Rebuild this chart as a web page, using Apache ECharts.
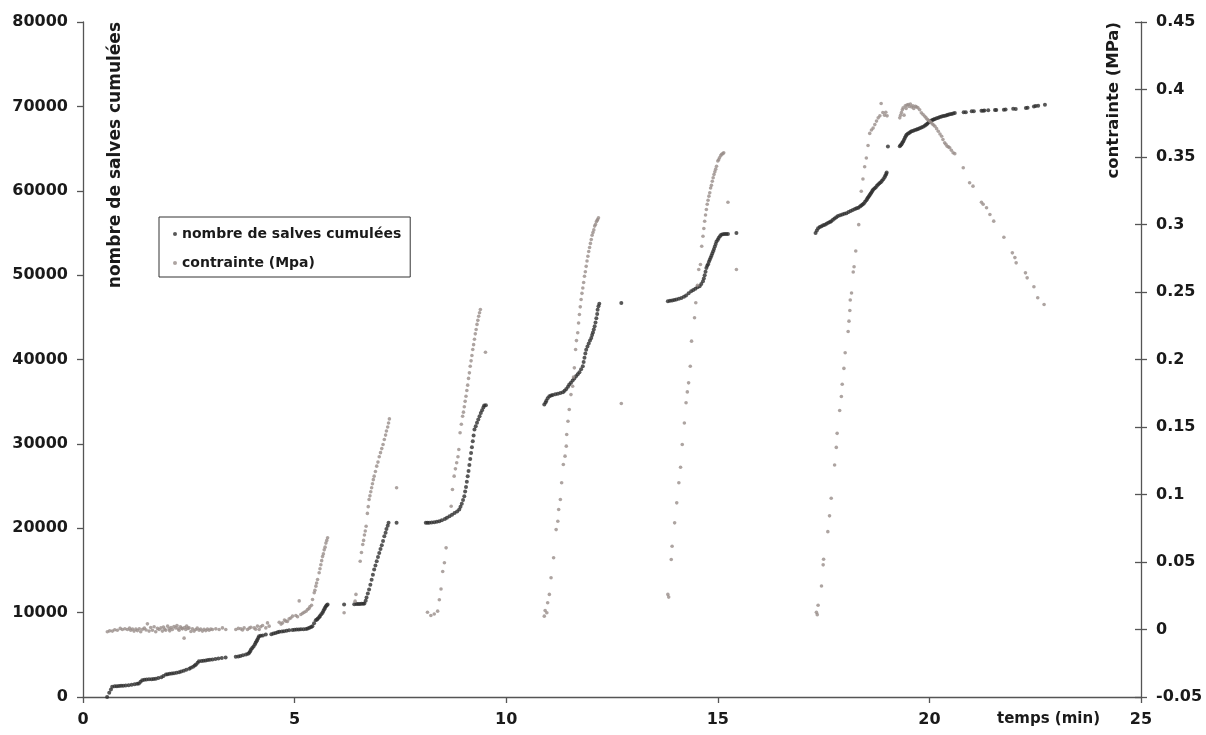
<!DOCTYPE html>
<html>
<head>
<meta charset="utf-8">
<script src="https://cdn.jsdelivr.net/npm/echarts@6/dist/echarts.min.js"></script>
<style>
html,body{margin:0;padding:0;background:#fff;}
#chart{width:1206px;height:735px;}
</style>
</head>
<body>
<div id="chart"></div>
<script>
// ---- data ----
const seriesNames = ['nombre de salves cumulées', 'contrainte (Mpa)'];
const axisNames = ['nombre de salves cumulées', 'contrainte (MPa)', 'temps (min)'];

// cumulated number of bursts (left axis)
const countTime = [
0.57,0.62,0.66,0.69,0.75,0.80,0.85,0.90,0.95,1.01,1.08,1.15,1.22,1.28,1.32,1.36,1.40,1.45,1.50,1.56,1.62,1.67,1.72,1.78,1.85,1.90,1.96,2.00,2.05,2.10,2.15,2.21,2.27,2.32,2.38,2.44,2.51,2.55,2.60,2.64,2.67,2.71,2.74,2.80,2.85,2.90,2.95,3.00,3.06,3.13,3.20,3.28,3.37,
3.61,3.67,3.72,3.78,3.85,3.90,3.93,3.95,3.97,4.00,4.03,4.06,4.08,4.10,4.12,4.14,4.16,4.20,4.25,4.32,4.45,4.50,4.55,4.60,4.64,4.70,4.75,4.81,4.87,4.95,5.00,5.05,5.10,5.15,5.21,5.27,5.31,5.35,5.39,5.42,5.46,5.50,5.53,5.55,5.58,5.60,5.63,5.66,5.68,5.70,5.72,5.74,5.76,5.78,
6.17,6.41,6.46,6.50,6.54,6.58,6.62,6.65,6.68,6.70,6.73,6.76,6.79,6.82,6.85,6.88,6.91,6.94,6.97,7.00,7.03,7.06,7.09,7.12,7.15,7.17,7.20,7.22,7.41,
8.10,8.14,8.18,8.24,8.30,8.36,8.42,8.48,8.55,8.60,8.66,8.72,8.78,8.84,8.89,8.92,8.95,8.98,9.01,9.03,9.05,9.07,9.09,9.11,9.13,9.15,9.17,9.19,9.21,9.23,9.25,9.28,9.31,9.34,9.37,9.40,9.43,9.46,9.48,9.52,
10.90,10.93,10.95,10.98,11.02,11.06,11.10,11.16,11.22,11.28,11.34,11.38,11.42,11.46,11.49,11.53,11.57,11.61,11.65,11.69,11.73,11.77,11.81,11.83,11.85,11.87,11.89,11.92,11.95,11.98,12.01,12.03,12.05,12.07,12.09,12.11,12.13,12.15,12.16,12.18,12.20,12.72,
13.82,13.87,13.92,13.97,14.02,14.08,14.14,14.20,14.25,14.31,14.37,14.42,14.47,14.52,14.57,14.61,14.65,14.67,14.69,14.71,14.73,14.75,14.77,14.79,14.81,14.83,14.85,14.87,14.89,14.91,14.93,14.95,14.97,15.00,15.02,15.05,15.08,15.12,15.16,15.20,15.24,15.44,
17.31,17.34,17.37,17.41,17.45,17.49,17.53,17.57,17.61,17.65,17.68,17.72,17.76,17.80,17.84,17.89,17.94,17.99,18.04,18.09,18.14,18.19,18.24,18.28,18.32,18.36,18.39,18.42,18.45,18.48,18.51,18.53,18.55,18.57,18.59,18.61,18.63,18.65,18.67,18.70,18.73,18.76,18.79,18.82,18.85,18.88,18.91,18.94,18.96,18.98,18.99,19.02,
19.30,19.32,19.34,19.36,19.38,19.40,19.42,19.44,19.46,19.49,19.52,19.55,19.58,19.62,19.66,19.70,19.73,19.77,19.81,19.85,19.89,19.92,19.95,19.98,20.01,20.04,20.07,20.10,20.13,20.17,20.21,20.25,20.29,20.33,20.37,20.41,20.44,20.48,20.52,20.56,20.60,20.81,20.86,
21.00,21.05,21.23,21.27,21.30,21.39,21.55,21.58,21.76,21.80,21.98,22.04,22.28,22.32,22.47,22.51,22.57,22.73
];
const countValue = [
0,500,900,1210,1270,1280,1300,1320,1340,1360,1400,1450,1500,1560,1600,1800,2000,2040,2070,2090,2110,2130,2150,2250,2350,2500,2670,2710,2750,2790,2820,2880,2940,3020,3100,3220,3340,3470,3600,3730,3850,4050,4240,4270,4300,4340,4380,4410,4440,4500,4560,4620,4680,
4760,4800,4850,4940,5030,5130,5240,5430,5630,5820,6000,6210,6420,6610,6800,7000,7200,7250,7300,7400,7450,7520,7600,7660,7720,7760,7800,7860,7920,7950,7980,8000,8010,8020,8040,8050,8120,8200,8300,8390,8750,9100,9200,9300,9450,9600,9800,10000,10200,10400,10580,10760,10860,10960,
10960,11000,11010,11020,11035,11050,11065,11080,11400,11800,12270,12740,13300,13900,14500,15100,15600,16100,16600,17080,17550,18000,18500,19050,19480,19900,20300,20640,20640,
20640,20645,20650,20680,20700,20760,20830,20950,21100,21250,21420,21600,21800,22000,22220,22550,22900,23350,23790,24350,24900,25500,26160,26800,27500,28200,28930,29600,30300,31000,31690,32100,32500,32900,33270,33650,34000,34300,34540,34570,
34660,34900,35100,35400,35640,35720,35800,35880,35950,36030,36110,36300,36500,36780,37030,37250,37500,37750,38010,38250,38500,38850,39190,39700,40200,40700,41170,41550,41900,42250,42560,42900,43200,43550,43930,44400,44900,45400,45910,46300,46620,46700,
46900,46950,47000,47050,47100,47200,47290,47450,47600,47850,48080,48250,48400,48550,48670,48950,49260,49600,50000,50400,50850,51100,51300,51600,51830,52050,52300,52550,52820,53100,53400,53700,54000,54200,54400,54600,54800,54830,54860,54870,54880,55000,
55000,55300,55560,55700,55800,55900,55970,56100,56200,56300,56380,56550,56700,56850,57010,57100,57200,57270,57340,57470,57600,57720,57840,57920,58000,58120,58250,58380,58500,58700,58880,59040,59200,59350,59500,59650,59800,59960,60130,60260,60400,60580,60750,60880,61000,61180,61370,61600,61800,62000,62150,65250,
65260,65380,65500,65680,65850,66050,66250,66450,66650,66750,66850,66950,67040,67120,67200,67260,67320,67410,67500,67600,67710,67830,67950,68080,68220,68300,68380,68440,68500,68580,68650,68730,68810,68850,68900,68960,69010,69060,69100,69160,69210,69290,69310,
69410,69420,69490,69495,69500,69530,69570,69575,69610,69620,69720,69690,69810,69830,70000,70030,70080,70200
];

// stress (right axis)
const stressTime = [
0.575,0.63,0.694,0.75,0.812,0.88,0.930,0.99,1.049,1.10,1.127,1.17,1.206,1.25,1.285,1.33,1.364,1.41,1.45,1.49,1.522,1.561,1.60,1.640,1.68,1.719,1.76,1.798,1.84,1.876,1.90,1.93,1.955,2.00,2.034,2.05,2.08,2.113,2.15,2.192,2.22,2.25,2.271,2.30,2.33,2.349,2.389,2.40,2.428,2.45,2.48,2.507,2.55,2.586,2.625,2.665,2.70,2.744,2.78,2.822,2.86,2.901,2.94,2.980,3.02,3.059,3.138,3.217,3.295,3.374,
3.611,3.67,3.729,3.77,3.808,3.887,3.93,3.966,4.045,4.08,4.123,4.163,4.20,4.242,4.320,4.360,4.399,4.636,4.68,4.715,4.76,4.794,4.83,4.872,4.91,4.951,5.030,5.07,5.109,5.148,5.19,5.227,5.27,5.306,5.34,5.361,5.40,5.424,5.464,5.48,5.503,5.52,5.543,5.58,5.60,5.62,5.64,5.66,5.68,5.70,5.72,5.74,5.76,5.78,
6.17,6.43,6.45,6.55,6.58,6.61,6.63,6.65,6.67,6.69,6.72,6.74,6.76,6.78,6.80,6.82,6.84,6.86,6.88,6.91,6.94,6.97,7.00,7.03,7.06,7.09,7.12,7.15,7.17,7.20,7.22,7.24,7.41,
8.14,8.22,8.30,8.38,8.42,8.46,8.50,8.54,8.58,8.70,8.73,8.77,8.80,8.83,8.86,8.88,8.91,8.94,8.97,8.99,9.01,9.03,9.05,9.07,9.09,9.11,9.13,9.15,9.17,9.19,9.21,9.23,9.25,9.27,9.29,9.31,9.33,9.35,9.37,9.39,9.51,
10.90,10.92,10.96,10.98,11.02,11.06,11.12,11.18,11.22,11.24,11.28,11.31,11.35,11.39,11.42,11.43,11.46,11.49,11.53,11.57,11.59,11.61,11.64,11.66,11.69,11.71,11.73,11.75,11.77,11.79,11.81,11.83,11.85,11.87,11.89,11.91,11.93,11.95,11.97,11.99,12.01,12.03,12.05,12.07,12.09,12.11,12.13,12.15,12.16,12.18,12.72,
13.82,13.84,13.90,13.92,13.98,14.03,14.08,14.12,14.16,14.21,14.25,14.28,14.31,14.35,14.38,14.45,14.48,14.52,14.55,14.59,14.62,14.65,14.67,14.69,14.71,14.73,14.75,14.77,14.79,14.81,14.83,14.85,14.87,14.89,14.91,14.93,14.95,14.97,15.00,15.02,15.04,15.07,15.09,15.12,15.14,15.24,15.44,
17.33,17.35,17.37,17.45,17.49,17.50,17.60,17.64,17.68,17.76,17.80,17.82,17.88,17.92,17.94,17.98,18.01,18.08,18.10,18.12,18.13,18.16,18.20,18.22,18.26,18.33,18.39,18.43,18.47,18.51,18.55,18.59,18.63,18.67,18.71,18.75,18.79,18.83,18.86,18.90,18.94,18.97,19.00,
19.30,19.32,19.34,19.36,19.38,19.40,19.43,19.45,19.47,19.50,19.52,19.55,19.58,19.61,19.63,19.67,19.70,19.73,19.77,19.81,19.85,19.89,19.92,19.95,19.98,20.01,20.04,20.07,20.10,20.13,20.17,20.21,20.25,20.29,20.32,20.36,20.39,20.42,20.45,20.48,20.52,20.56,20.60,
20.80,20.95,21.03,21.23,21.27,21.35,21.43,21.52,21.76,21.96,22.02,22.05,22.27,22.31,22.47,22.56,22.71
];
const stressValue = [
-0.0017,-0.0010,-0.0012,-0.0002,-0.0005,0.0008,0.0000,0.0006,0.0000,0.0010,-0.0005,0.0004,-0.0012,0.0003,-0.0008,0.0006,-0.0017,0.0002,0.0010,-0.0004,0.0042,-0.0012,0.0015,-0.0005,0.0020,-0.0017,0.0008,0.0000,0.0012,-0.0012,0.0018,0.0004,-0.0005,0.0025,0.0005,-0.0010,0.0014,0.0000,0.0022,0.0012,0.0030,0.0006,-0.0005,0.0020,0.0010,0.0005,-0.0064,0.0015,0.0000,0.0025,0.0008,0.0012,-0.0015,0.0005,-0.0012,0.0000,0.0010,-0.0005,0.0004,-0.0012,0.0002,-0.0008,0.0004,-0.0005,0.0003,0.0000,0.0005,0.0000,0.0012,0.0000,
0.0000,0.0008,0.0005,-0.0004,0.0012,0.0000,0.0010,0.0017,0.0012,0.0002,0.0025,0.0000,0.0020,0.0030,0.0012,0.0049,0.0025,0.0054,0.0040,0.0049,0.0070,0.0062,0.0060,0.0079,0.0085,0.0099,0.0104,0.0095,0.0212,0.0111,0.0120,0.0128,0.0135,0.0148,0.0155,0.0168,0.0180,0.0222,0.0272,0.0290,0.0321,0.0345,0.0370,0.042,0.045,0.048,0.051,0.054,0.056,0.059,0.061,0.064,0.066,0.068,
0.0124,0.021,0.026,0.0506,0.057,0.063,0.066,0.070,0.073,0.0765,0.086,0.091,0.0963,0.099,0.102,0.105,0.108,0.111,0.1136,0.117,0.121,0.124,0.128,0.131,0.134,0.137,0.1407,0.144,0.147,0.150,0.153,0.156,0.105,
0.0128,0.0104,0.0115,0.0136,0.022,0.030,0.043,0.0494,0.0605,0.0913,0.1037,0.1136,0.119,0.1235,0.128,0.1333,0.1457,0.152,0.158,0.161,0.165,0.169,0.1728,0.177,0.181,0.186,0.1901,0.195,0.199,0.203,0.2074,0.211,0.215,0.219,0.2222,0.226,0.229,0.232,0.2346,0.237,0.2054,
0.0099,0.014,0.0124,0.0198,0.026,0.0383,0.0531,0.074,0.0802,0.0889,0.0963,0.1087,0.1222,0.1284,0.1358,0.1444,0.1543,0.163,0.174,0.1802,0.187,0.1938,0.2074,0.214,0.2198,0.227,0.2333,0.239,0.2444,0.249,0.253,0.257,0.2617,0.265,0.269,0.273,0.2765,0.280,0.283,0.286,0.2889,0.292,0.294,0.296,0.2988,0.300,0.302,0.303,0.3037,0.305,0.1674,
0.026,0.024,0.0519,0.0617,0.079,0.0938,0.1087,0.1202,0.137,0.153,0.168,0.176,0.1827,0.195,0.2136,0.2309,0.242,0.255,0.2667,0.2704,0.2839,0.2913,0.297,0.3024,0.307,0.3111,0.315,0.318,0.321,0.3235,0.327,0.329,0.332,0.3346,0.337,0.339,0.341,0.3432,0.347,0.348,0.3494,0.351,0.352,0.3525,0.3531,0.3165,0.2667,
0.0127,0.0110,0.018,0.0322,0.0479,0.0520,0.0725,0.0842,0.0972,0.1219,0.1349,0.1453,0.1622,0.1726,0.1817,0.1934,0.205,0.2207,0.2284,0.2363,0.2441,0.2493,0.2648,0.2687,0.2804,0.2999,0.3246,0.3337,0.3428,0.3493,0.3585,0.3675,0.370,0.3714,0.374,0.3766,0.379,0.3805,0.3896,0.383,0.381,0.3831,0.3805,
0.379,0.381,0.383,0.385,0.3864,0.3810,0.3880,0.3860,0.3885,0.3889,0.3875,0.3892,0.3870,0.388,0.3860,0.3875,0.3870,0.3864,0.385,0.3827,0.3815,0.3802,0.3790,0.378,0.3772,0.3765,0.3755,0.3745,0.3737,0.3728,0.371,0.3691,0.367,0.3654,0.363,0.3605,0.3595,0.358,0.3575,0.3568,0.355,0.3531,0.3525,
0.342,0.3309,0.3284,0.3165,0.3150,0.3124,0.3074,0.3025,0.2906,0.279,0.2755,0.2716,0.2642,0.2605,0.2539,0.2457,0.2407
];

// axis ticks
const xTicks = {min: 0, max: 25, interval: 5};
const countTicks = {min: 0, max: 80000, interval: 10000};
const stressTicks = {min: -0.05, max: 0.45, interval: 0.05};

// ---- chart ----
const countData = countTime.map((t, i) => [t, countValue[i]]);
const stressData = stressTime.map((t, i) => [t, stressValue[i]]);

const FONT = 'DejaVu Sans';
const TXT = '#1a1a1a';
const AX = '#555555';
const labelStyle = {fontFamily: FONT, fontWeight: 'bold', fontSize: 16, color: TXT};

const chart = echarts.init(document.getElementById('chart'), null, {renderer: 'canvas'});
chart.setOption({
  animation: false,
  backgroundColor: '#ffffff',
  grid: {left: 83, right: 65, top: 22, bottom: 38, containLabel: false},
  legend: {
    left: 159, top: 217,
    orient: 'vertical',
    padding: [9, 9, 6, 14],
    itemGap: 13,
    itemWidth: 4, itemHeight: 4,
    icon: 'circle',
    borderColor: '#333', borderWidth: 1,
    backgroundColor: '#fff',
    textStyle: {fontFamily: FONT, fontWeight: 'bold', fontSize: 14, color: TXT, lineHeight: 16},
    data: seriesNames
  },
  xAxis: {
    type: 'value',
    min: xTicks.min, max: xTicks.max, interval: xTicks.interval,
    splitLine: {show: false},
    axisLine: {lineStyle: {color: AX, width: 1.3}},
    axisTick: {show: true, inside: false, length: 6, lineStyle: {color: AX, width: 1.3}},
    axisLabel: Object.assign({margin: 15, formatter: v => String(v)}, labelStyle),
    name: axisNames[2],
    nameLocation: 'end',
    nameGap: -41,
    nameTextStyle: {fontFamily: FONT, fontWeight: 'bold', fontSize: 15, color: TXT, align: 'right', verticalAlign: 'top', padding: [15, 0, 0, 0]}
  },
  yAxis: [
    {
      type: 'value', position: 'left',
      min: countTicks.min, max: countTicks.max, interval: countTicks.interval,
      splitLine: {show: false},
      axisLine: {show: true, lineStyle: {color: AX, width: 1.3}},
      axisTick: {show: true, inside: false, length: 6, lineStyle: {color: AX, width: 1.3}},
      axisLabel: Object.assign({margin: 15, formatter: v => String(v)}, labelStyle)
    },
    {
      type: 'value', position: 'right',
      min: stressTicks.min, max: stressTicks.max, interval: stressTicks.interval,
      splitLine: {show: false},
      axisLine: {show: true, lineStyle: {color: AX, width: 1.3}},
      axisTick: {show: true, inside: false, length: 6, lineStyle: {color: AX, width: 1.3}},
      axisLabel: Object.assign({margin: 15, formatter: v => String(Math.round(v * 100) / 100)}, labelStyle)
    },
    {
      type: 'value', position: 'right',
      min: stressTicks.min, max: stressTicks.max, interval: stressTicks.interval,
      splitLine: {show: false},
      axisLine: {show: false},
      axisTick: {show: true, inside: true, length: 6, lineStyle: {color: AX, width: 1.3}},
      axisLabel: {show: false}
    }
  ],
  graphic: [
    {
      type: 'text', x: 116, y: 22, rotation: Math.PI / 2,
      style: {text: axisNames[0], fontFamily: FONT, fontWeight: 'bold', fontSize: 17, fill: TXT, textAlign: 'right', textVerticalAlign: 'middle'}
    },
    {
      type: 'text', x: 1114, y: 22, rotation: Math.PI / 2,
      style: {text: axisNames[1], fontFamily: FONT, fontWeight: 'bold', fontSize: 16.5, fill: TXT, textAlign: 'right', textVerticalAlign: 'middle'}
    }
  ],
  series: [
    {
      name: seriesNames[0], type: 'scatter', xAxisIndex: 0, yAxisIndex: 0,
      symbol: 'circle', symbolSize: 4,
      itemStyle: {color: '#2e2e2e'},
      data: countData
    },
    {
      name: seriesNames[1], type: 'scatter', xAxisIndex: 0, yAxisIndex: 1,
      symbol: 'circle', symbolSize: 3.6,
      itemStyle: {color: '#998d8a'},
      data: stressData
    }
  ]
});
</script>
</body>
</html>
